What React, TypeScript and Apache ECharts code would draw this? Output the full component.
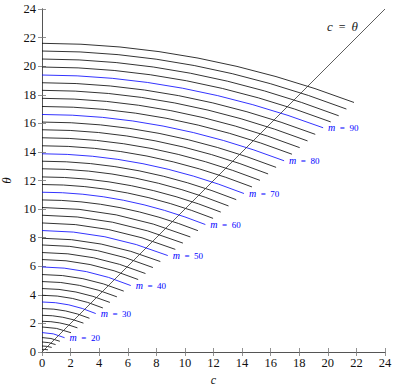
import React, { useEffect, useRef } from "react";
import * as echarts from "echarts";

// Parameter m for each curve (step 2)
const mValues = [12, 14, 16, 18, 20, 22, 24, 26, 28, 30, 32, 34, 36, 38, 40, 42, 44, 46, 48, 50, 52, 54, 56, 58, 60, 62, 64, 66, 68, 70, 72, 74, 76, 78, 80, 82, 84, 86, 88, 90, 92, 94, 96, 98];
// theta where each curve meets c = 0
const startTheta = [0.19, 0.42, 0.7, 1.01, 1.36, 1.75, 2.15, 2.57, 3.04, 3.5, 3.97, 4.44, 4.93, 5.42, 5.95, 6.47, 6.96, 7.49, 7.96, 8.5, 9.03, 9.57, 10.11, 10.64, 11.18, 11.72, 12.25, 12.82, 13.35, 13.87, 14.43, 14.99, 15.55, 16.09, 16.62, 17.18, 17.75, 18.31, 18.84, 19.38, 19.94, 20.5, 21.06, 21.6];
// c at the end of each curve
const endC = [0.42, 0.68, 0.95, 1.25, 1.58, 2.03, 2.48, 2.9, 3.32, 3.76, 4.26, 4.75, 5.24, 5.72, 6.21, 6.73, 7.24, 7.76, 8.28, 8.8, 9.33, 9.86, 10.38, 10.91, 11.43, 11.97, 12.51, 13.05, 13.59, 14.13, 14.69, 15.25, 15.82, 16.38, 16.94, 17.49, 18.03, 18.58, 19.12, 19.67, 20.2, 20.76, 21.3, 21.83];
// theta at the end of each curve
const endTheta = [0.15, 0.32, 0.52, 0.75, 1.0, 1.35, 1.69, 2.02, 2.36, 2.69, 3.08, 3.47, 3.86, 4.26, 4.65, 5.07, 5.49, 5.91, 6.33, 6.75, 7.18, 7.62, 8.05, 8.49, 8.92, 9.35, 9.79, 10.22, 10.66, 11.09, 11.55, 12.01, 12.46, 12.92, 13.38, 13.84, 14.3, 14.77, 15.23, 15.69, 16.1, 16.53, 17.0, 17.46];
// labelled (blue) curves
const labeledM = [20, 30, 40, 50, 60, 70, 80, 90];
// diagonal c = theta
const diagonal = [[0, 0], [24, 24]];
const tickValues = [0, 2, 4, 6, 8, 10, 12, 14, 16, 18, 20, 22, 24];

const FONT = "Liberation Serif";

export default function App() {
  const ref = useRef<HTMLDivElement>(null);
  useEffect(() => {
    if (!ref.current) return;
    const chart = echarts.init(ref.current, null, { renderer: "svg" });
    const curveData = mValues.map((m, i) => [m, startTheta[i], endC[i], endTheta[i]]);
    const axisCommon = {
      type: "value",
      min: tickValues[0],
      max: tickValues[tickValues.length - 1],
      interval: 2,
      splitLine: { show: false },
      axisLine: { show: true, lineStyle: { color: "#555", width: 1 } },
      axisTick: { show: true, inside: true, length: 4, lineStyle: { color: "#777", width: 0.8 } },
    };
    const labelStyle = { color: "#111", fontFamily: FONT, fontSize: 12.5 };
    chart.setOption({
      animation: false,
      textStyle: { fontFamily: FONT },
      grid: { left: 42, right: 12, top: 9, bottom: 34, containLabel: false, outerBoundsMode: "none" },
      xAxis: [
        {
          ...axisCommon,
          position: "bottom",
          axisLabel: { ...labelStyle, margin: 4 },
          name: "c",
          nameLocation: "middle",
          nameGap: 18,
          nameTextStyle: { fontFamily: FONT, fontStyle: "italic", fontSize: 12, color: "#111" },
        },
        { ...axisCommon, position: "top", axisLabel: { show: false } },
      ],
      yAxis: [
        {
          ...axisCommon,
          position: "left",
          axisLabel: { ...labelStyle, margin: 6 },
          name: "θ",
          nameLocation: "middle",
          nameGap: 27,
          nameRotate: 90,
          nameTextStyle: { fontFamily: FONT, fontStyle: "italic", fontSize: 13, color: "#111" },
        },
        { ...axisCommon, position: "right", axisLabel: { show: false } },
      ],
      series: [
        {
          type: "custom",
          xAxisIndex: 0,
          yAxisIndex: 0,
          data: curveData,
          encode: { x: 2, y: 1 },
          renderItem: (params: any, api: any) => {
            const m = api.value(0);
            const th0 = api.value(1);
            const ce = api.value(2);
            const te = api.value(3);
            const p0 = api.coord([0, th0]);
            const pc = api.coord([ce / 2, th0]);
            const p2 = api.coord([ce, te]);
            const blue = labeledM.indexOf(m) >= 0;
            const color = blue ? "#0000ff" : "#000000";
            const children: any[] = [
              {
                type: "bezierCurve",
                shape: { x1: p0[0], y1: p0[1], x2: p2[0], y2: p2[1], cpx1: pc[0], cpy1: pc[1] },
                style: { stroke: color, fill: null, lineWidth: 0.8 },
              },
            ];
            if (blue) {
              children.push({
                type: "text",
                x: p2[0] + 5,
                y: p2[1],
                style: {
                  text: "{i|m}  =  " + m,
                  fill: color,
                  font: "9px Liberation Serif",
                  align: "left",
                  verticalAlign: "middle",
                  rich: { i: { fontStyle: "italic", fontFamily: FONT, fontSize: 10, fill: color } },
                },
              });
            }
            return { type: "group", children };
          },
          z: 2,
        },
        {
          type: "line",
          xAxisIndex: 0,
          yAxisIndex: 0,
          data: diagonal,
          symbol: "none",
          lineStyle: { color: "#333", width: 0.8 },
          z: 3,
        },
      ],
      graphic: [
        {
          type: "text",
          left: 327,
          top: 20,
          style: {
            text: "{i|c}  =  {i|θ}",
            fill: "#222",
            font: "12px Liberation Serif",
            rich: { i: { fontStyle: "italic", fontFamily: FONT, fontSize: 13, fill: "#222" } },
          },
        },
      ],
    });
    return () => chart.dispose();
  }, []);
  return <div ref={ref} style={{ width: 397, height: 386, position: "absolute", left: 0, top: 0 }} />;
}
